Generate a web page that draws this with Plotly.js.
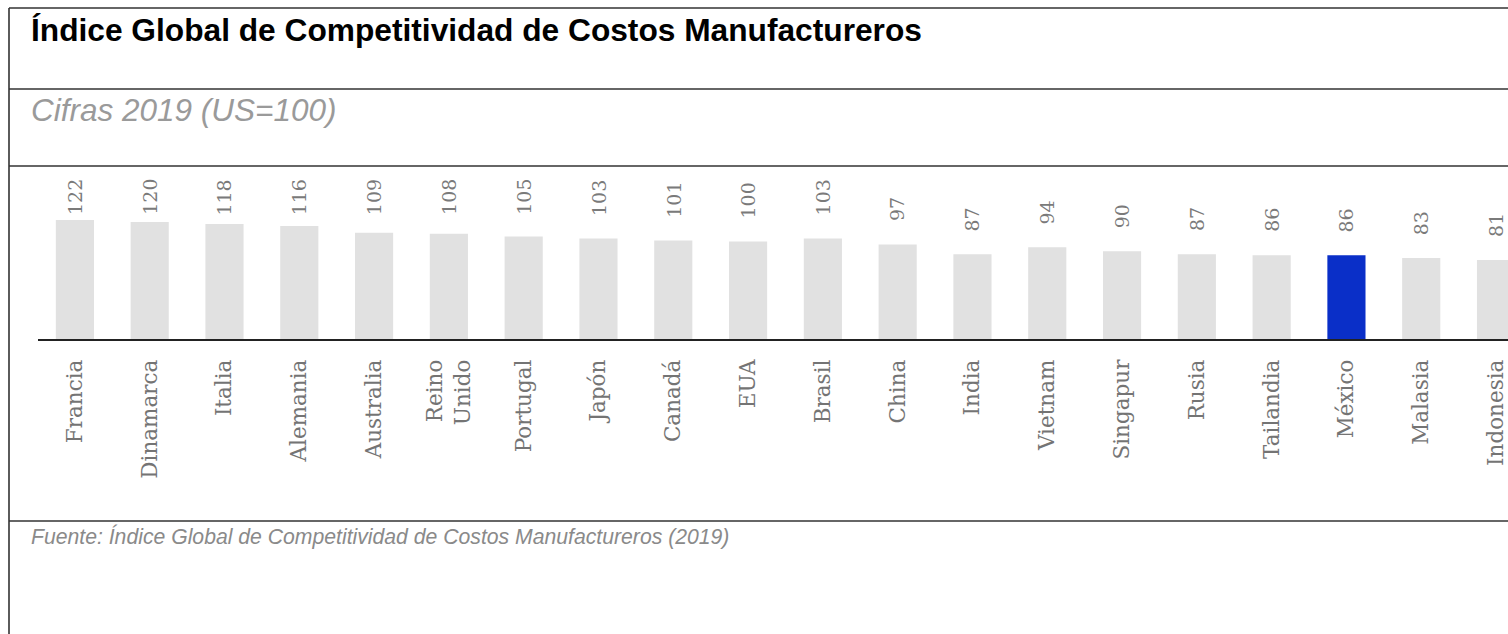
<!DOCTYPE html>
<html>
<head>
<meta charset="utf-8">
<script src="https://cdn.plot.ly/plotly-3.0.1.min.js"></script>
<style>html,body{margin:0;padding:0;background:#fff;}#chart{width:1508px;height:634px;}</style>
</head>
<body>
<div id="chart"></div>
<script>
const countries = ["Francia","Dinamarca","Italia","Alemania","Australia","Reino<br>Unido","Portugal","Japón","Canadá","EUA","Brasil","China","India","Vietnam","Singapur","Rusia","Tailandia","México","Malasia","Indonesia"];
const values = [122,120,118,116,109,108,105,103,101,100,103,97,87,94,90,87,86,86,83,81];
const highlight = "México";

const titleText = "Índice Global de Competitividad de Costos Manufactureros";
const subtitleText = "Cifras 2019 (US=100)";
const sourceText = "Fuente: Índice Global de Competitividad de Costos Manufactureros (2019)";

const W = 1508, H = 634;
const px = x => x / W;
const py = y => 1 - y / H;

const colors = countries.map(c => c === highlight ? "#0a2fc8" : "#e1e1e1");

const trace = {
  type: "bar",
  x: countries,
  y: values,
  marker: {color: colors, line: {width: 0}},
  hoverinfo: "x+y"
};

const lineStyle = {color: "#333333", width: 1.6};
const shapes = [
  {type:"line", xref:"paper", yref:"paper", x0:px(9), x1:1, y0:py(8), y1:py(8), line:lineStyle},
  {type:"line", xref:"paper", yref:"paper", x0:px(9), x1:1, y0:py(89), y1:py(89), line:lineStyle},
  {type:"line", xref:"paper", yref:"paper", x0:px(9), x1:1, y0:py(166), y1:py(166), line:lineStyle},
  {type:"line", xref:"paper", yref:"paper", x0:px(9), x1:1, y0:py(521), y1:py(521), line:lineStyle},
  {type:"line", xref:"paper", yref:"paper", x0:px(9), x1:px(9), y0:py(8), y1:0, line:lineStyle}
];

const annotations = [
  {xref:"paper", yref:"paper", x:px(29), y:py(30), xanchor:"left", yanchor:"middle", showarrow:false,
   text:"<b>"+titleText+"</b>", font:{family:"Liberation Sans, Arial", size:31.7, color:"#000"}},
  {xref:"paper", yref:"paper", x:px(29), y:py(110), xanchor:"left", yanchor:"middle", showarrow:false,
   text:"<i>"+subtitleText+"</i>", font:{family:"Liberation Sans, Arial", size:31.5, color:"#9a9a9a"}},
  {xref:"paper", yref:"paper", x:px(29), y:py(536), xanchor:"left", yanchor:"middle", showarrow:false,
   text:"<i>"+sourceText+"</i>", font:{family:"Liberation Sans, Arial", size:21.2, color:"#8a8a8a"}}
];
countries.forEach((c, i) => {
  annotations.push({
    xref:"x", yref:"y", x:c, y:Math.min(values[i], 103.5), yshift:21,
    xanchor:"center", yanchor:"bottom", showarrow:false, textangle:-90,
    text:String(values[i]), font:{family:"DejaVu Serif", size:19, color:"#7a7a7a"}
  });
});

const layout = {
  width: W, height: H,
  margin: {l:0, r:0, t:0, b:0, pad:0},
  paper_bgcolor: "#ffffff", plot_bgcolor: "#ffffff",
  showlegend: false,
  bargap: 0.49,
  xaxis: {
    domain: [px(37.5), 1],
    range: [-0.5, 19.16],
    type: "category",
    showline: true, linecolor: "#222222", linewidth: 2,
    ticks: "", tickangle: -90, ticklabelstandoff: 10,
    tickfont: {family:"DejaVu Serif", size:21.5, color:"#747474"},
    showgrid: false, zeroline: false, automargin: false, fixedrange: true
  },
  yaxis: {
    domain: [py(339), py(166)],
    range: [0, 177.4],
    visible: false, showgrid: false, zeroline: false, fixedrange: true
  },
  shapes: shapes,
  annotations: annotations
};

Plotly.newPlot("chart", [trace], layout, {displayModeBar:false, staticPlot:true});
</script>
</body>
</html>
